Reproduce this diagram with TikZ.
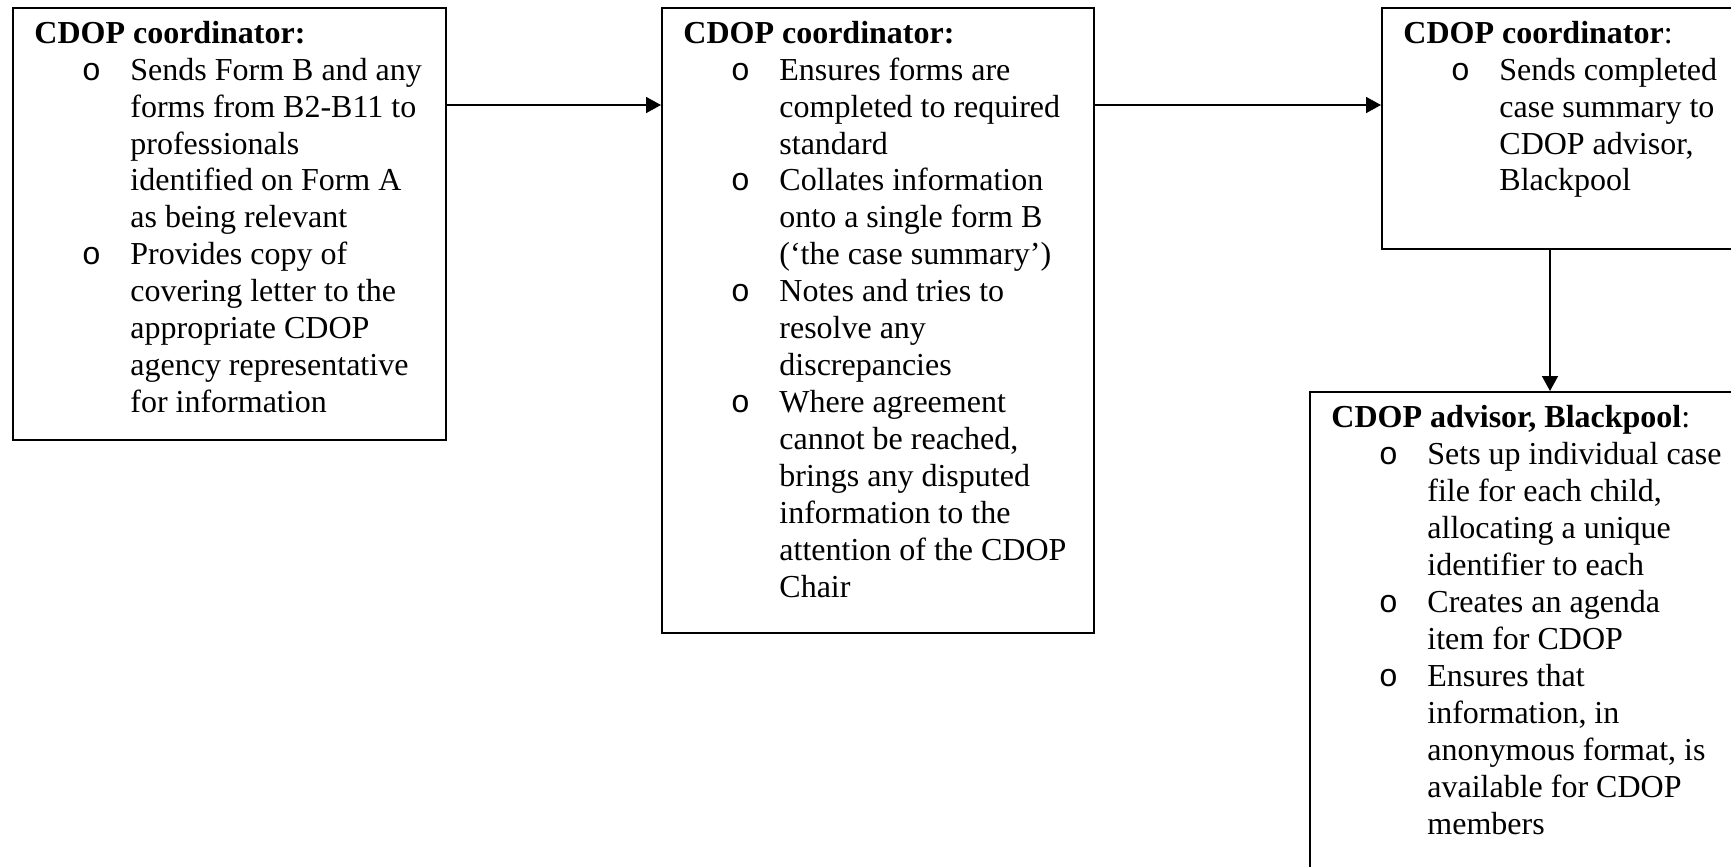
\documentclass[tikz,border=0pt]{standalone}
\usepackage{fontspec}
\setmainfont{Liberation Serif}
\newfontfamily\bulfont{Liberation Mono}
\usetikzlibrary{arrows.meta}
\newcommand\bul[1]{\hspace*{28.5pt}\makebox[0pt]{\bulfont o}\hspace*{19.5pt}#1}
\newcommand\cont[1]{\hspace*{48pt}#1}
\begin{document}
\begin{tikzpicture}[x=0.5pt,y=-0.5pt,
  boxst/.style={draw, line width=0.8pt, rectangle, inner sep=0pt, anchor=north west},
  txt/.style={anchor=base west, inner sep=0pt, font=\fontsize{16}{18.5}\selectfont},
  arr/.style={-{Triangle[length=7.5pt,width=8pt]}, line width=0.8pt}]
\useasboundingbox (0,0) rectangle (1731,867);
\clip (0,0) rectangle (1731,867);
\fill[white] (0,0) rectangle (1731,867);

% boxes
\node[boxst, minimum width=216.5pt, minimum height=216pt] (b1) at (12,7) {};
\node[boxst, minimum width=216pt, minimum height=312.5pt] (b2) at (661,7) {};
\node[boxst, minimum width=189.5pt, minimum height=120.5pt] (b3) at (1381,7) {};
\node[boxst, minimum width=230.5pt, minimum height=254.5pt] (b4) at (1309,391) {};

% texts
\node[txt] (t1) at (34,43) {\begin{tabular}[t]{@{}l@{}}
\textbf{CDOP coordinator:}\\
\bul{Sends Form B and any}\\
\cont{forms from B2-B11 to}\\
\cont{professionals}\\
\cont{identified on Form A}\\
\cont{as being relevant}\\
\bul{Provides copy of}\\
\cont{covering letter to the}\\
\cont{appropriate CDOP}\\
\cont{agency representative}\\
\cont{for information}
\end{tabular}};

\node[txt] (t2) at (683,43) {\begin{tabular}[t]{@{}l@{}}
\textbf{CDOP coordinator:}\\
\bul{Ensures forms are}\\
\cont{completed to required}\\
\cont{standard}\\
\bul{Collates information}\\
\cont{onto a single form B}\\
\cont{(‘the case summary’)}\\
\bul{Notes and tries to}\\
\cont{resolve any}\\
\cont{discrepancies}\\
\bul{Where agreement}\\
\cont{cannot be reached,}\\
\cont{brings any disputed}\\
\cont{information to the}\\
\cont{attention of the CDOP}\\
\cont{Chair}
\end{tabular}};

\node[txt] (t3) at (1403,43) {\begin{tabular}[t]{@{}l@{}}
\textbf{CDOP coordinator}:\\
\bul{Sends completed}\\
\cont{case summary to}\\
\cont{CDOP advisor,}\\
\cont{Blackpool}
\end{tabular}};

\node[txt] (t4) at (1331,427) {\begin{tabular}[t]{@{}l@{}}
\textbf{CDOP advisor, Blackpool}:\\
\bul{Sets up individual case}\\
\cont{file for each child,}\\
\cont{allocating a unique}\\
\cont{identifier to each}\\
\bul{Creates an agenda}\\
\cont{item for CDOP}\\
\bul{Ensures that}\\
\cont{information, in}\\
\cont{anonymous format, is}\\
\cont{available for CDOP}\\
\cont{members}
\end{tabular}};

% connectors
\path (b1.north east) ++(0,98) coordinate (p1);
\draw[arr] (p1) -- (p1 -| b2.west);
\path (b2.north east) ++(0,98) coordinate (p2);
\draw[arr] (p2) -- (p2 -| b3.west);
\path (b3.south west) ++(169,0) coordinate (p3);
\draw[arr] (p3) -- (p3 |- b4.north);
\end{tikzpicture}
\end{document}
